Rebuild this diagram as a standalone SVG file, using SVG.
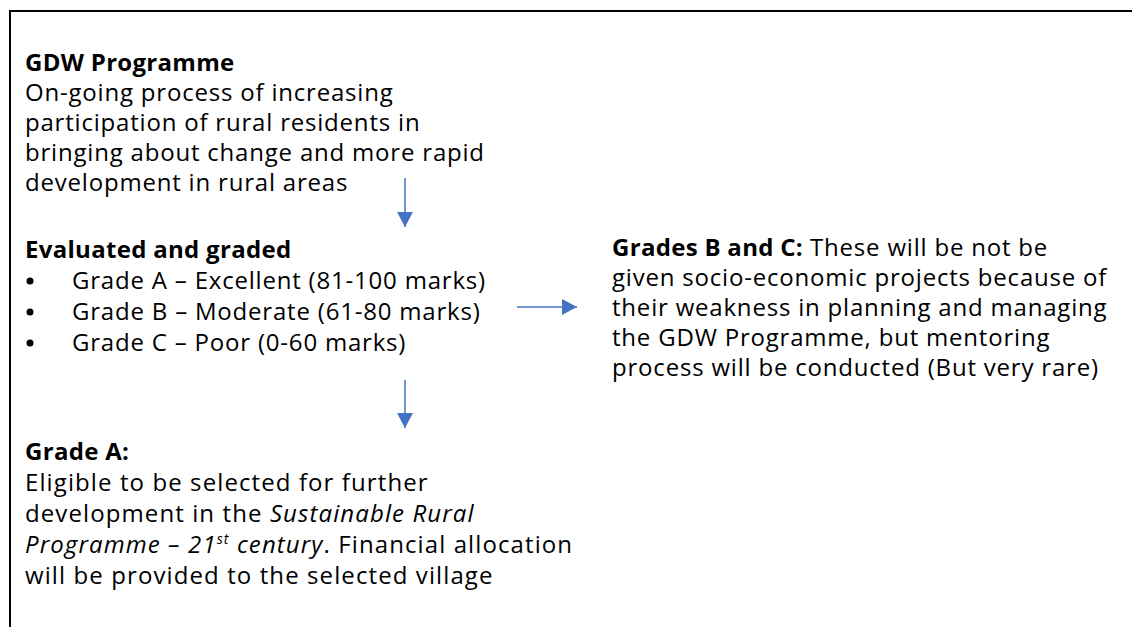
<svg xmlns="http://www.w3.org/2000/svg" width="1132" height="627" viewBox="0 0 1132 627">
  <style>
    text { font-family: "Open Sans", "DejaVu Sans", sans-serif; font-size: 24px; letter-spacing: 0.8px; fill: #000; }
    .b { font-weight: bold; letter-spacing: 0.3px; }
    .i { font-style: italic; }
    .wide { letter-spacing: 1.1px; }
    .conn { stroke: #4472C4; stroke-width: 1.5; fill: none; }
  </style>
  <defs>
    <marker id="ah" markerUnits="userSpaceOnUse" markerWidth="16" markerHeight="16" refX="15" refY="8" orient="auto">
      <path d="M0,0 L15,8 L0,16 Z" fill="#4472C4"/>
    </marker>
  </defs>
  <rect width="1132" height="627" fill="#fff"/>
  <path d="M10,627 V11 H1132" fill="none" stroke="#000" stroke-width="2"/>

  <g id="gdw-programme">
    <text x="25" y="71" class="b">GDW Programme</text>
    <text x="25" y="101">On-going process of increasing</text>
    <text x="25" y="131">participation of rural residents in</text>
    <text x="25" y="161">bringing about change and more rapid</text>
    <text x="25" y="191">development in rural areas</text>
  </g>

  <g id="evaluated">
    <text x="25" y="258" class="b">Evaluated and graded</text>
    <circle cx="30" cy="281" r="3.5" fill="#000"/>
    <text x="72" y="289">Grade A – Excellent (81-100 marks)</text>
    <circle cx="30" cy="312" r="3.5" fill="#000"/>
    <text x="72" y="320">Grade B – Moderate (61-80 marks)</text>
    <circle cx="30" cy="343" r="3.5" fill="#000"/>
    <text x="72" y="351">Grade C – Poor (0-60 marks)</text>
  </g>

  <g id="grades-b-c">
    <text x="612" y="256"><tspan class="b">Grades B and C:</tspan> These will be not be</text>
    <text x="612" y="286">given socio-economic projects because of</text>
    <text x="612" y="316">their weakness in planning and managing</text>
    <text x="612" y="346">the GDW Programme, but mentoring</text>
    <text x="612" y="376">process will be conducted (But very rare)</text>
  </g>

  <g id="grade-a">
    <text x="25" y="460" class="b">Grade A:</text>
    <text x="25" y="491" class="wide">Eligible to be selected for further</text>
    <text x="25" y="522" class="wide">development in the <tspan class="i">Sustainable Rural</tspan></text>
    <text x="25" y="553" class="wide"><tspan class="i">Programme – 21</tspan><tspan class="i" font-size="14" dy="-9">st</tspan><tspan class="i" dy="9"> century</tspan>. Financial allocation</text>
    <text x="25" y="584" class="wide">will be provided to the selected village</text>
  </g>

  <g id="connectors">
    <line class="conn" x1="405" y1="178" x2="405" y2="227" marker-end="url(#ah)"/>
    <line class="conn" x1="517" y1="307" x2="577" y2="307" marker-end="url(#ah)"/>
    <line class="conn" x1="405" y1="380" x2="405" y2="428" marker-end="url(#ah)"/>
  </g>
</svg>
